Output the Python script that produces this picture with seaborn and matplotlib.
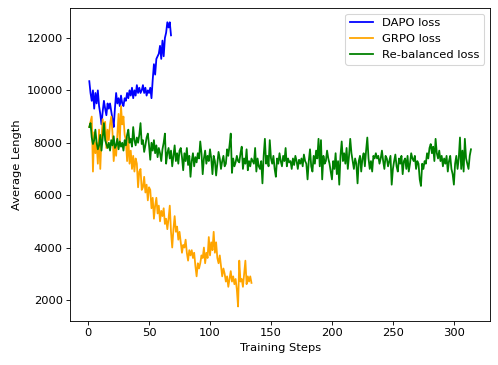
import matplotlib
matplotlib.use("Agg")
import matplotlib.pyplot as plt
import seaborn as sns
import numpy as np

# average response length per training step
dapo_len = [
    10350, 9900, 9600, 10000, 9300, 9900, 9500, 10000, 9400, 9100,
    8700, 9200, 9600, 9300, 9050, 9500, 9300, 9500, 9200, 8900,
    8600, 9300, 9900, 9500, 9700, 9400, 9800, 9500, 9400, 9700,
    9600, 9900, 9700, 10000, 9800, 10100, 9700, 10000, 9800, 10200,
    9900, 10100, 9900, 10000, 10200, 9900, 10100, 9800, 10000, 9900,
    10100, 9700, 10400, 11000, 10600, 11200, 11300, 11400, 11700, 11200,
    11900, 11300, 12000, 12200, 12600, 12400, 12600, 12100,
]

grpo_len = [
    8600, 8800, 9000, 6900, 8400, 7600, 8000, 7200, 8500, 7000,
    8200, 8900, 8300, 8800, 7800, 8500, 8100, 8700, 9000, 8400,
    7300, 7900, 7500, 8300, 9100, 8000, 9400, 8700, 9000, 8300,
    8100, 7300, 8200, 7200, 7700, 7000, 7500, 6900, 7400, 7200,
    6300, 6900, 7000, 6200, 6300, 6700, 6100, 6400, 5800, 6300,
    6200, 5500, 5900, 5100, 5600, 5900, 5300, 5600, 5000, 5400,
    5200, 5500, 4900, 5100, 4700, 5100, 5600, 4600, 4000, 4700,
    5200, 4600, 4800, 4300, 4600, 4200, 3800, 4100, 4000, 4300,
    3800, 3500, 3900, 3700, 3900, 3600, 3800, 3300, 2900, 3400,
    3200, 3400, 3700, 3600, 4000, 3400, 3800, 3600, 4400, 3700,
    4200, 3900, 4600, 3800, 4200, 3600, 3400, 3700, 3300, 2900,
    3200, 3000, 2700, 2900, 2500, 2800, 3100, 2700, 2900, 2600,
    2800, 2400, 1750, 3500, 2700, 2800, 2500, 3000, 3500, 2600,
    2900, 2700, 2900, 2650,
]

rebalanced_len = [
    8600, 8750, 8200, 7950, 8100, 8500, 8000, 7750, 7900, 8300,
    7700, 8200, 8750, 8100, 7950, 7800, 8000, 7700, 8100, 7900,
    8250, 7800, 7900, 8150, 7750, 8050, 7850, 8000, 7700, 8100,
    7900, 8300, 8500, 8000, 8150, 7850, 8600, 8100, 7900, 8200,
    8000, 8300, 8750, 7950, 8100, 7650, 7900, 8200, 8350, 7900,
    7350, 8000, 7700, 8100, 7600, 7900, 7450, 7800, 7600, 7300,
    7750, 8000, 8350, 7200, 7600, 7800, 7400, 7700, 7100, 7500,
    7900, 7300, 7600, 7200, 7700, 7800, 7450, 6950, 7600, 7300,
    7800, 7150, 7500, 6700, 7300, 7600, 7100, 7450, 7250, 7600,
    7400, 8050, 7600, 6800, 7400, 7700, 7200, 7500, 7300, 7750,
    7400, 6800, 7500, 7300, 6750, 7200, 7650, 7400, 7000, 7300,
    7500, 7100, 7200, 7750, 7500, 7900, 8350, 6850, 7400, 7100,
    7250, 7500, 7300, 7250, 7600, 7850, 7000, 7400, 7200, 7750,
    6950, 7300, 7100, 7400, 7300, 7200, 7800, 6900, 7400, 7100,
    7000, 7300, 6450, 7500, 8150, 7200, 7500, 7100, 8100, 7400,
    7200, 7500, 7000, 6700, 7400, 7200, 7600, 7300, 7100, 7500,
    7300, 7800, 7100, 7400, 7250, 7300, 7000, 7400, 7150, 7500,
    7300, 7000, 7350, 7200, 7400, 7100, 7550, 7300, 7200, 6600,
    7300, 7750, 7100, 6900, 7500, 7200, 7700, 7400, 8150, 7100,
    8100, 6600, 7500, 7200, 7300, 7700, 7400, 7200, 6900, 6600,
    7300, 7000, 7600, 6800, 7300, 6400, 7500, 8050, 7300, 7600,
    7200, 7800, 7000, 7500, 8150, 7600, 7300, 7000, 7400, 7200,
    6450, 7300, 7500, 6900, 7400, 7600, 7100, 7700, 8200, 7400,
    7000, 7300, 6900, 7500, 7400, 7600, 7400, 7500, 7200, 7400,
    7700, 7300, 7000, 7500, 7400, 7100, 7300, 7500, 6400, 7000,
    7300, 7550, 7100, 6900, 7400, 7200, 7500, 6800, 7300, 7400,
    7000, 7500, 6900, 7200, 7600, 7400, 7300, 7500, 7000, 7300,
    7200, 6600, 6350, 7200, 7000, 7300, 7200, 7600, 7400, 7800,
    7950, 7600, 7850, 7300, 8150, 7600, 7400, 7700, 7300, 7500,
    7100, 7400, 7200, 7500, 6900, 7300, 7500, 7000, 6800, 6400,
    7200, 7500, 7000, 7400, 8200, 7000, 7700, 6900, 8150, 7400,
    7200, 7000, 7500, 7750,
]

series = [
    ("DAPO loss", dapo_len, "blue"),
    ("GRPO loss", grpo_len, "orange"),
    ("Re-balanced loss", rebalanced_len, "green"),
]

plt.rcParams["font.size"] = 10.6

dpi = 78
fig, ax = plt.subplots(figsize=(498 / dpi, 365 / dpi), dpi=dpi)
fig.subplots_adjust(left=0.141, right=0.984, top=0.978, bottom=0.1214)

for label, values, color in series:
    steps = np.arange(1, len(values) + 1)
    sns.lineplot(x=steps, y=values, color=color, label=label, ax=ax, linewidth=1.65)

ax.set_xlabel("Training Steps")
ax.set_ylabel("Average Length")
ax.legend(loc="upper right")

fig.savefig("out.png", dpi=dpi)
